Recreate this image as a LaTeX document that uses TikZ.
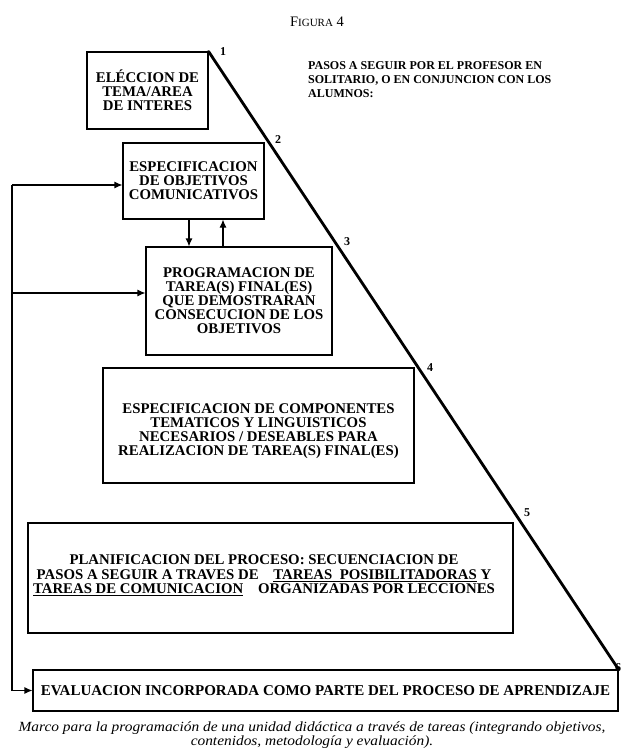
\documentclass[tikz,border=0pt]{standalone}
\usepackage{fontspec}
\setmainfont{Liberation Serif}
\newfontfamily\capfont[FakeStretch=1.1]{Liberation Serif}
\usetikzlibrary{arrows.meta}
\begin{document}
\begin{tikzpicture}[x=1pt,y=-1pt,
  box/.style={draw, line width=1.1pt, inner sep=0pt, align=center,
    font=\fontsize{14.8}{14}\selectfont\bfseries},
  boxtext/.style={inner sep=0pt, align=center, font=\fontsize{14.8}{14}\selectfont\bfseries},
  num/.style={inner sep=0pt, font=\fontsize{12}{12}\selectfont\bfseries},
  arr/.style={line width=1.1pt, -{Latex[length=8pt,width=7pt]}},
  diag/.style={line width=2.8pt, line cap=round}]
\useasboundingbox (0,0) rectangle (623,751);
\fill[white] (0,0) rectangle (623,751);

\node[inner sep=0pt] (fig) at (317,22) {\fontsize{14.5}{14}\selectfont F{\fontsize{11}{14}\selectfont IGURA} 4};

\node[inner sep=0pt, anchor=north west, align=left,
  font=\fontsize{12}{13.8}\selectfont\bfseries] (pasos) at (308,61.5)
  {PASOS A SEGUIR POR EL PROFESOR EN\\ SOLITARIO, O EN CONJUNCION CON LOS\\ ALUMNOS:};

\node[box, minimum width=121pt, minimum height=77pt] (b1) at (147.5,90.5)
  {EL\'ECCION DE\\ TEMA/AREA\\ DE INTERES};
\node[box, minimum width=141pt, minimum height=76pt] (b2) at (193.5,181)
  {ESPECIFICACION\\ DE OBJETIVOS\\ COMUNICATIVOS};
\node[box, minimum width=186pt, minimum height=108pt] (b3) at (239,301)
  {PROGRAMACION DE\\ TAREA(S) FINAL(ES)\\ QUE DEMOSTRARAN\\ CONSECUCION DE LOS\\ OBJETIVOS};
\node[box, minimum width=311pt, minimum height=115pt] (b4) at (258.5,425.5) {};
\node[boxtext] (b4t) at (258.5,431)
  {ESPECIFICACION DE COMPONENTES\\ TEMATICOS Y LINGUISTICOS\\ NECESARIOS / DESEABLES PARA\\ REALIZACION DE TAREA(S) FINAL(ES)};
\node[box, minimum width=485pt, minimum height=110pt] (b5) at (270.5,578) {};
\node[boxtext, font=\fontsize{14.8}{14.5}\selectfont\bfseries] (b5t) at (264,575.5)
  {PLANIFICACION DEL PROCESO: SECUENCIACION DE\\
   PASOS A SEGUIR A TRAVES DE\quad\underline{TAREAS\ \ POSIBILITADORAS} Y\\
   \underline{TAREAS DE COMUNICACION}\quad ORGANIZADAS POR LECCIONES};
\node[box, minimum width=585pt, minimum height=41pt,
  font=\fontsize{15}{15}\selectfont\bfseries] (b6) at (325.5,690.5)
  {EVALUACION INCORPORADA COMO PARTE DEL PROCESO DE APRENDIZAJE};

% diagonal
\draw[diag] (b1.north east) -- (b6.north east);

% step numbers
\node[num] (n1) at (223,52) {1};
\node[num] (n2) at (278,140) {2};
\node[num] (n3) at (347,242) {3};
\node[num] (n4) at (430,368) {4};
\node[num] (n5) at (527,513) {5};
\node[num] (n6) at (618,668) {6};

% feedback loop
\coordinate (fbtop) at (12,185);
\coordinate (fbmid) at (12,293);
\draw[arr] (fbtop) -- (fbtop -| b2.west);
\draw[arr] (fbmid) -- (fbmid -| b3.west);
\draw[arr] (fbtop) |- (b6.west);

% arrows between box 2 and box 3
\coordinate (dA) at (189,0);
\coordinate (uA) at (223,0);
\draw[arr] (b2.south -| dA) -- (b3.north -| dA);
\draw[arr] (b3.north -| uA) -- (b2.south -| uA);

% caption
\node[inner sep=0pt, align=center, font=\capfont\fontsize{14}{14}\selectfont\itshape] (cap) at (312,735)
  {Marco para la programación de una unidad didáctica a través de tareas (integrando objetivos,\\
   contenidos, metodología y evaluación).};
\end{tikzpicture}
\end{document}
